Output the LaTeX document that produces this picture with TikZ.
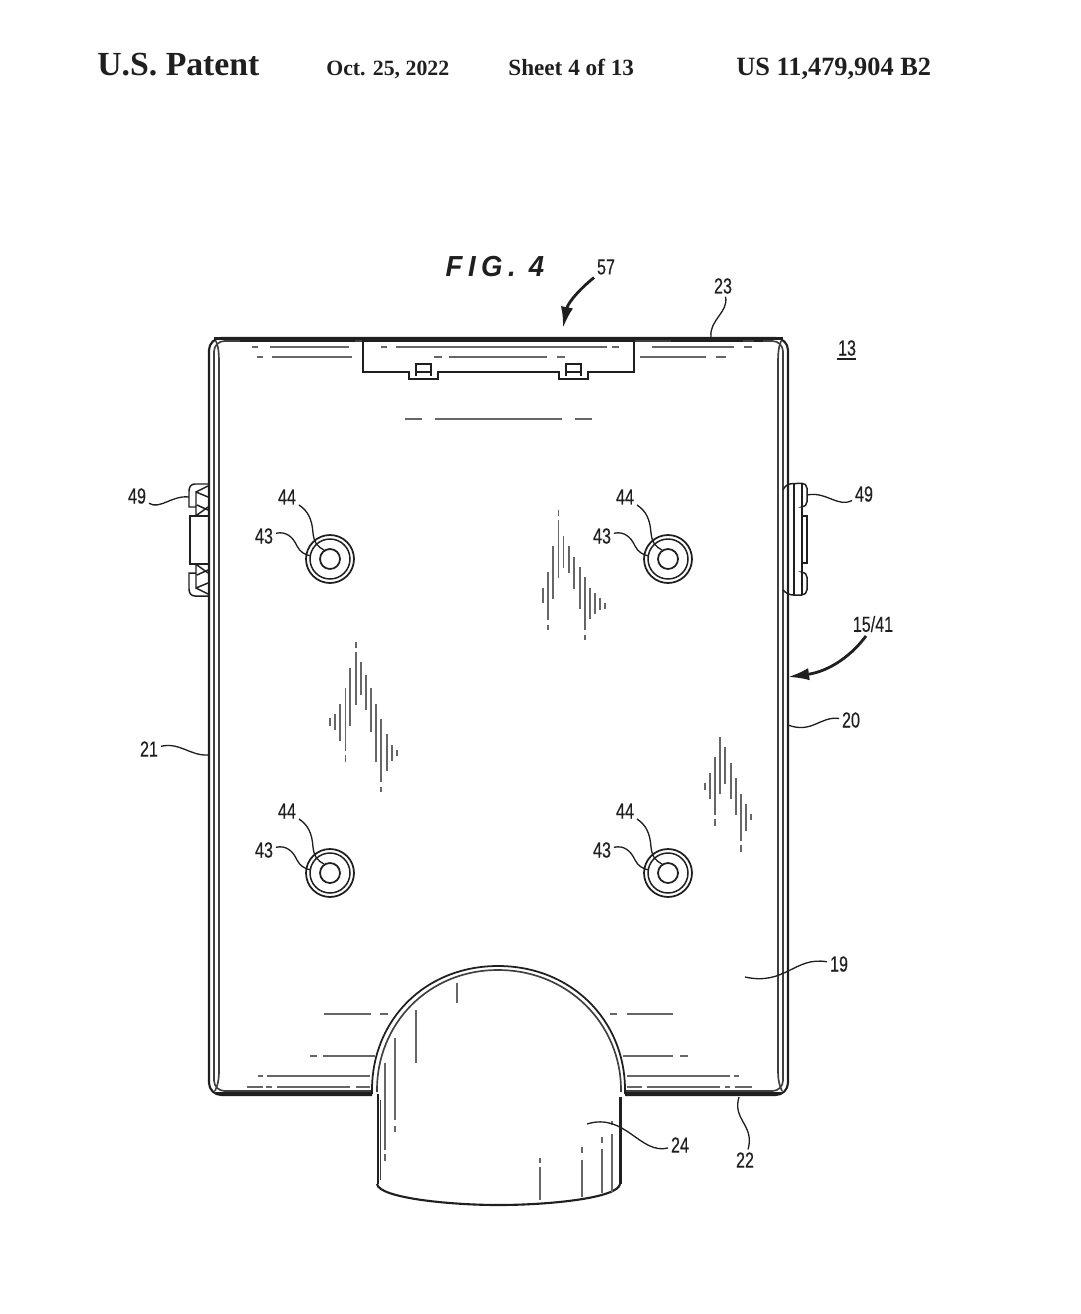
\documentclass[tikz,border=0pt]{standalone}
\usepackage{fontspec}
\setmainfont{Liberation Serif}
\newfontfamily\labfont[FakeStretch=0.74,FakeBold=0.35]{Liberation Sans}
\newfontfamily\figfont[FakeStretch=0.95,LetterSpace=19]{Liberation Sans}
\usetikzlibrary{arrows.meta}
\definecolor{ink}{gray}{0.12}
\tikzset{
  head/.style={anchor=base west,inner sep=0pt,text=ink},
  lbl/.style={font=\labfont\fontsize{12.4}{14}\selectfont,text=ink,inner sep=1.5pt},
  part/.style={draw=ink,line width=1pt},
  band/.style={draw=ink,line width=2.2pt},
  wall/.style={draw=ink!85,line width=0.95pt},
  leader/.style={draw=ink,line width=0.75pt},
  bigarrow/.style={draw=ink,line width=1.6pt,-{Latex[length=12pt,width=7pt]}},
  shade/.style={draw=black!60,line width=1pt},
}
\begin{document}
\begin{tikzpicture}[x=0.02cm,y=-0.02cm]
  \useasboundingbox (0,0) rectangle (1080,1314);
  % header
  \node[head,font=\bfseries\fontsize{19.2}{22}\selectfont] (patent) at (97,76) {U.S. Patent};
  \node[head,font=\bfseries\fontsize{12.4}{15}\selectfont] (date) at (326,76) {Oct. 25, 2022};
  \node[head,font=\bfseries\fontsize{13.2}{15}\selectfont] (sheet) at (508,76) {Sheet 4 of 13};
  \node[head,font=\bfseries\fontsize{15}{16}\selectfont] (number) at (736,76) {US 11,479,904 B2};
  \node[text=ink,inner sep=0pt,font=\figfont\bfseries\itshape\fontsize{16.5}{18}\selectfont] (fig) at (495,267) {FIG. 4};
  % housing
  \path[part,line width=1.2pt,rounded corners=7] (372,1095) -- (209,1095) -- (209,338) -- (788,338) -- (788,1095) -- (625,1095);
  \path[wall,rounded corners=6] (372,1091) -- (214,1091) -- (214,341) -- (783,341) -- (783,1091) -- (625,1091);
  \path[wall] (216,341) .. controls (219,348) and (219,356) .. (219,366) -- (219,1070) .. controls (219,1079) and (218,1085) .. (215,1091);
  \path[wall] (781,341) .. controls (778,348) and (778,356) .. (778,366) -- (778,1070) .. controls (778,1079) and (779,1085) .. (782,1091);
  \path[band] (214,338.5) -- (783,338.5);
  \path[band] (216,1093.5) -- (372,1093.5) (625,1093.5) -- (781,1093.5);
  \path[band,line width=1.4pt] (240,340.5) -- (355,340.5) (363,340.5) -- (634,340.5) (671,340.5) -- (743,340.5) (754,340.5) -- (763,340.5);
  % surface lines
  \foreach \ya/\xa/\xb in {
    347/252/258, 347/270/349, 357/257/263, 357/272/352,
    347/381/387, 347/396/607, 347/612/619, 357/434/442, 357/449/547, 357/557/565,
    347/652/734, 347/744/752, 357/640/706, 357/716/726,
    419/405/422, 419/435/562, 419/575/592,
    1014/324/371, 1014/380/388, 1014/610/617, 1014/627/673,
    1056/310/317, 1056/323/375, 1056/623/673, 1056/680/688,
    1076/258/263, 1076/267/370, 1076/627/730, 1076/734/739,
    1087/247/263, 1087/266/272, 1087/277/350, 1087/356/370,
    1087/627/642, 1087/647/720, 1087/725/730, 1087/735/752}
    \path[shade] (\xa,\ya) -- (\xb,\ya);
  % tab at the top
  \path[part] (363,340) -- (363,372) -- (409,372) -- (409,379) -- (438,379) -- (438,372) -- (559,372) -- (559,379) -- (588,379) -- (588,372) -- (634,372) -- (634,340);
  \foreach \x in {416,566}
    \path[part,line width=0.85pt] (\x,376) -- (\x,364) -- (\x+15,364) -- (\x+15,376) (\x,372) -- (\x+15,372);
  % left clips
  \foreach \m/\s in {0/1,1080/-1}
    \path[part,line width=0.85pt,shift={(0,\m)},yscale=\s]
      (208,484) -- (195,484) .. controls (191,484) and (189,487) .. (189,491) -- (189,507) -- (196,507) (196,491) -- (196,516)
      (196,492) -- (208,486) (196,492) -- (208,497) (197,505) -- (208,510) (197,515) -- (208,507);
  \path[part,line width=0.85pt] (208,516) -- (190,516) -- (190,564) -- (208,564);
  % right clip
  \path[part,line width=0.85pt,rounded corners=3] (783,490) -- (786,484) -- (807,483) -- (807,507) -- (802,507);
  \path[part,line width=0.85pt] (802,516) -- (807,516) -- (807,563) -- (802,563);
  \path[part,line width=0.85pt,rounded corners=3] (802,572) -- (807,572) -- (807,595) -- (788,595) -- (783,590);
  \path[part,line width=0.85pt] (794,484) -- (794,595) (802,484) -- (802,595);
  % dome and spout
  \path[part] (372,1094) -- (372,1090) .. controls (372,1020) and (425,966) .. (498,966) .. controls (571,966) and (625,1020) .. (625,1090) -- (625,1094);
  \path[wall] (377,1092) -- (377,1090) .. controls (377,1024) and (428,970) .. (498,970) .. controls (568,970) and (621,1024) .. (621,1090) -- (621,1092);
  \path[part,line width=1.5pt] (378,1094) -- (378,1184);
  \path[part,line width=1.7pt] (620,1097) -- (620,1184);
  \path[part,line width=1.2pt] (377,1184) .. controls (379,1198) and (450,1205) .. (498,1205) .. controls (550,1205) and (618,1198) .. (620,1184);
  \path[wall] (380.5,1100) -- (380.5,1180);
  \foreach \x/\ya/\yb in {457/983/1003, 416/1010/1063, 395/1038/1120, 395/1126/1132, 385/1063/1150, 385/1154/1161,
    540/1158/1163, 540/1167/1200, 582/1147/1153, 582/1160/1197, 602/1137/1143, 602/1149/1193, 612/1121/1125, 612/1134/1192}
    \path[shade] (\x,\ya) -- (\x,\yb);
  % shading marks
  \foreach \x/\ya/\yb in {
    543/588/603, 548/572/620, 548/625/630, 553/546/599, 558.5/520/578, 558.5/510/516, 563.5/536/568, 569/546/573,
    574/557/589, 580/567/609, 585/577/630, 585/635/640, 590/588/619, 595/593/614, 600/598/610, 605/603/609,
    329.7/718/726, 335/714/730, 340/704/741, 345.5/688/751, 345.5/755/762, 350/668/726, 355.7/652/705, 355.7/642/648,
    361/662/695, 366/675/710, 371/688/732, 376/704/762, 381/719/782, 381/787/792, 386.7/734/771, 391.7/745/761, 397/750/756,
    705/783/790, 710/773/799, 715/757/815, 715/819/826, 720/737/794, 725/747/784, 731/763/799, 736/778/815,
    741/794/841, 741/845/852, 746/804/831, 751/814/820}
    \path[shade] (\x,\ya) -- (\x,\yb);
  % mounting holes with their labels
  \foreach \cx/\cy/\n in {330/559/a,668/559/b,330/873/c,668/873/d} {
    \begin{scope}[shift={(\cx,\cy)}]
      \node[circle,draw=ink,line width=1pt,minimum size=0.96cm,inner sep=0pt] (ring\n) at (0,0) {};
      \node[circle,draw=ink,line width=0.85pt,minimum size=0.8cm,inner sep=0pt] (seat\n) at (0,0) {};
      \node[circle,draw=ink,line width=1pt,minimum size=0.4cm,inner sep=0pt] (hole\n) at (0,0) {};
      \node[lbl] (l44\n) at (-43,-62) {44};
      \node[lbl] (l43\n) at (-66,-23) {43};
      \coordinate (e44\n) at (-6,-9);
      \coordinate (e43\n) at (-19,-3);
      \draw[leader] (l44\n) .. controls (-22,-48) and (-18,-40) .. (-17,-26) .. controls (-16,-16) and (-12,-12) .. (e44\n);
      \draw[leader] (l43\n) .. controls (-44,-28) and (-37,-22) .. (-33,-13) .. controls (-30,-7) and (-25,-4) .. (e43\n);
    \end{scope}
  }
  % other labels
  \node[lbl] (l57) at (606,267) {57};
  \coordinate (e57) at (563,328);
  \draw[bigarrow] (l57.south west) .. controls (582,287) and (568,302) .. (e57);
  \node[lbl] (l23) at (723,286) {23};
  \coordinate (e23) at (711,337);
  \draw[leader] (l23) .. controls (729,312) and (709,320) .. (e23);
  \node[lbl] (l13) at (847,348) {13};
  \coordinate (u13a) at (837,359);
  \coordinate (u13b) at (856,359);
  \draw[part] (u13a) -- (u13b);
  \node[lbl] (l49l) at (137,496) {49};
  \coordinate (e49l) at (189,497);
  \draw[leader] (l49l) .. controls (160,510) and (172,495) .. (e49l);
  \node[lbl] (l49r) at (864,494) {49};
  \coordinate (e49r) at (807,495);
  \draw[leader] (l49r) .. controls (838,508) and (826,491) .. (e49r);
  \node[lbl] (l1541) at (873,624) {15/41};
  \coordinate (e1541) at (788,677);
  \draw[bigarrow] (l1541.south) ++(-7,1) coordinate (s1541) .. controls (848,660) and (825,672) .. (e1541);
  \node[lbl] (l20) at (851,720) {20};
  \coordinate (e20) at (788,725);
  \draw[leader] (l20) .. controls (820,716) and (812,734) .. (e20);
  \node[lbl] (l21) at (149,749) {21};
  \coordinate (e21) at (208,755);
  \draw[leader] (l21) .. controls (180,742) and (190,756) .. (e21);
  \node[lbl] (l19) at (839,964) {19};
  \coordinate (e19) at (745,977);
  \draw[leader] (l19) .. controls (795,956) and (785,986) .. (e19);
  \node[lbl] (l24) at (680,1145) {24};
  \coordinate (e24) at (587,1124);
  \draw[leader] (l24) .. controls (640,1155) and (625,1112) .. (e24);
  \node[lbl] (l22) at (745,1160) {22};
  \coordinate (e22) at (739,1097);
  \draw[leader] (l22) .. controls (755,1125) and (732,1120) .. (e22);
\end{tikzpicture}
\end{document}
